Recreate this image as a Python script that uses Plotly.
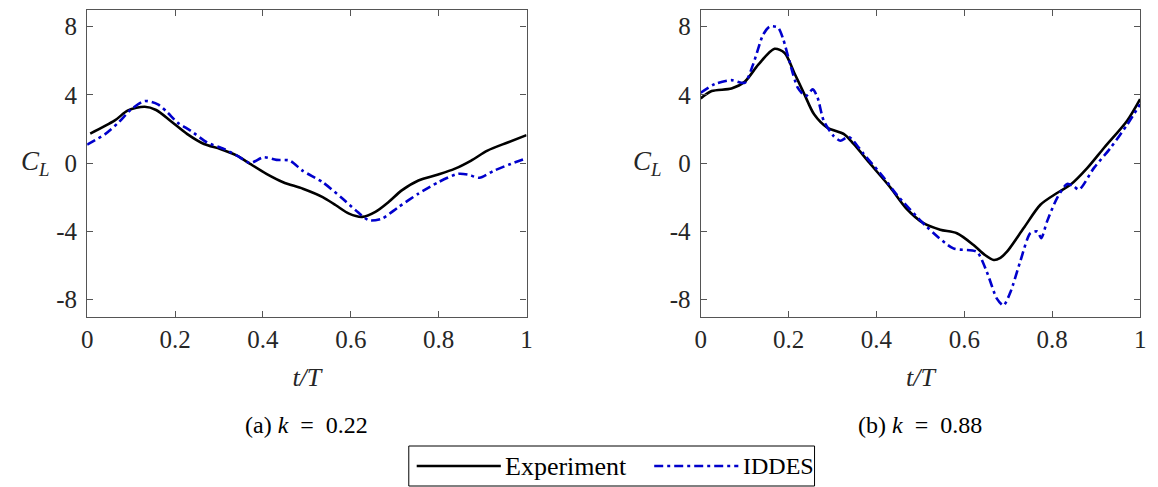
import plotly.graph_objects as go

# ---- data ----
t_exp_a = [0.007, 0.063, 0.093, 0.131, 0.157, 0.19, 0.228, 0.266, 0.303, 0.341, 0.371, 0.408, 0.446, 0.491,
           0.536, 0.566, 0.596, 0.626, 0.656, 0.686, 0.716, 0.754, 0.799, 0.836, 0.874, 0.911, 0.957, 1.0]
cl_exp_a = [1.73, 2.5, 3.09, 3.3, 3.11, 2.47, 1.7, 1.12, 0.83, 0.44, -0.05, -0.63, -1.12, -1.5,
            -1.99, -2.47, -2.96, -3.15, -2.86, -2.28, -1.6, -1.02, -0.67, -0.34, 0.15, 0.73, 1.21, 1.64]

t_ides_a = [0.0, 0.041, 0.071, 0.1, 0.131, 0.161, 0.183, 0.206, 0.236, 0.273, 0.311, 0.341, 0.371, 0.401,
            0.431, 0.461, 0.491, 0.536, 0.581, 0.611, 0.641, 0.671, 0.709, 0.754, 0.799, 0.844, 0.866,
            0.893, 0.926, 0.964, 1.0]
cl_ides_a = [1.08, 1.7, 2.37, 3.15, 3.64, 3.44, 2.96, 2.37, 1.89, 1.21, 0.83, 0.44, 0.0, 0.34,
             0.19, 0.15, -0.46, -1.12, -2.08, -2.76, -3.35, -3.25, -2.57, -1.79, -1.12, -0.63, -0.67,
             -0.86, -0.44, -0.05, 0.28]

t_exp_b = [0.0, 0.025, 0.07, 0.1, 0.131, 0.168, 0.191, 0.213, 0.236, 0.258, 0.288, 0.326, 0.348, 0.386,
           0.431, 0.468, 0.507, 0.545, 0.583, 0.621, 0.645, 0.667, 0.682, 0.697, 0.735, 0.773, 0.811, 0.842,
           0.88, 0.918, 0.97, 1.0]
cl_exp_b = [3.79, 4.22, 4.37, 4.76, 5.77, 6.7, 6.45, 5.28, 4.03, 2.86, 2.08, 1.7, 1.12, -0.05,
            -1.41, -2.66, -3.52, -3.9, -4.11, -4.8, -5.35, -5.68, -5.55, -5.19, -3.81, -2.44, -1.75, -1.26,
            -0.28, 0.9, 2.47, 3.75]

t_ides_b = [0.0, 0.033, 0.07, 0.1, 0.119, 0.142, 0.157, 0.176, 0.187, 0.202, 0.221, 0.239, 0.255, 0.266,
            0.28, 0.302, 0.318, 0.337, 0.371, 0.416, 0.446, 0.514, 0.575, 0.628, 0.651, 0.674, 0.689,
            0.705, 0.727, 0.75, 0.766, 0.775, 0.788, 0.811, 0.834, 0.849, 0.861, 0.895, 0.933, 0.971, 1.0]
cl_ides_b = [4.12, 4.64, 4.86, 4.7, 5.77, 7.52, 8.0, 7.94, 7.32, 5.96, 4.41, 3.93, 4.32, 3.83,
             2.47, 1.6, 1.31, 1.54, 0.53, -0.83, -1.85, -3.72, -5.0, -5.19, -6.37, -7.94, -8.34,
             -7.55, -5.78, -4.11, -4.01, -4.4, -3.43, -2.05, -1.22, -1.36, -1.56, -0.28, 0.9, 2.27, 3.45]

x_ticks = [0, 0.2, 0.4, 0.6, 0.8, 1]
x_ticklabels = ["0", "0.2", "0.4", "0.6", "0.8", "1"]
y_ticks = [-8, -4, 0, 4, 8]
y_ticklabels = ["-8", "-4", "0", "4", "8"]
series_names = ["Experiment", "IDDES"]
panel_titles = ["(a) <i>k</i>\u2002=\u20020.22", "(b) <i>k</i>\u2002=\u20020.88"]

# ---- style ----
FONT = "Times New Roman, Liberation Serif, Times, serif"
TXT = "#262626"
AX = "#555555"
BLACK = "#000000"
BLUE = "#0000CC"
DASHDOT = "9px,4px,3px,4px"
W = 1158
H = 487

fig = go.Figure()

panels = [(t_exp_a, cl_exp_a, t_ides_a, cl_ides_a, "x", "y"),
          (t_exp_b, cl_exp_b, t_ides_b, cl_ides_b, "x2", "y2")]
for te, ce, ti, ci, xa, ya in panels:
    fig.add_trace(go.Scatter(x=te, y=ce, mode="lines", name=series_names[0], xaxis=xa, yaxis=ya,
                             line=dict(color=BLACK, width=2.6, shape="spline", smoothing=0.8),
                             showlegend=False))
    fig.add_trace(go.Scatter(x=ti, y=ci, mode="lines", name=series_names[1], xaxis=xa, yaxis=ya,
                             line=dict(color=BLUE, width=2.6, dash=DASHDOT, shape="spline", smoothing=0.7),
                             showlegend=False))

dom_y = [1 - 316.7 / H, 1 - 9.5 / H]
dom_x1 = [82 / W, 526 / W]
dom_x2 = [702 / W, 1146 / W]

xcommon = dict(range=[0, 1], tickvals=x_ticks, ticktext=x_ticklabels, ticks="inside", ticklen=6, tickcolor=AX,
               showline=True, linecolor=AX, linewidth=1.2, mirror="ticks", showgrid=False, zeroline=False,
               tickfont=dict(family=FONT, size=25, color=TXT),
               title=dict(text="<i>t/T</i>", font=dict(family=FONT, size=26, color=TXT), standoff=16))
ycommon = dict(range=[-9, 9], tickvals=y_ticks, ticktext=y_ticklabels, ticks="inside", ticklen=6, tickcolor=AX,
               showline=True, linecolor=AX, linewidth=1.2, mirror="ticks", showgrid=False, zeroline=False,
               tickfont=dict(family=FONT, size=25, color=TXT), ticklabelstandoff=4)

fig.update_layout(
    width=W, height=H,
    margin=dict(l=0, r=0, t=0, b=0),
    paper_bgcolor="white", plot_bgcolor="white",
    font=dict(family=FONT),
    xaxis=dict(domain=dom_x1, anchor="y", **xcommon),
    yaxis=dict(domain=dom_y, anchor="x", **ycommon),
    xaxis2=dict(domain=dom_x2, anchor="y2", **xcommon),
    yaxis2=dict(domain=dom_y, anchor="x2", **ycommon),
    showlegend=False,
)

# C_L labels
for xp, yr in [(30 / W, "y"), (648 / W, "y2")]:
    fig.add_annotation(x=xp, xref="paper", y=0, yref=yr, text="<i>C<sub>L</sub></i>", showarrow=False,
                       font=dict(family=FONT, size=27, color=TXT), xanchor="center", yanchor="middle")

# panel captions
for xc, txt in [((82 + 526) / 2 / W, panel_titles[0]), ((702 + 1146) / 2 / W, panel_titles[1])]:
    fig.add_annotation(x=xc, xref="paper", y=1 - 425 / H, yref="paper", text=txt, showarrow=False,
                       font=dict(family=FONT, size=24, color="#000000"), xanchor="center", yanchor="middle")

# legend (drawn manually to match the long line samples)
lx0, lx1, ly0, ly1 = 407, 817, 446, 486
fig.add_shape(type="rect", xref="paper", yref="paper", x0=lx0 / W, x1=lx1 / W, y0=1 - ly1 / H, y1=1 - ly0 / H,
              line=dict(color="#000000", width=1), fillcolor="white")
ymid = 1 - 466 / H
fig.add_shape(type="line", xref="paper", yref="paper", x0=415 / W, x1=500 / W, y0=ymid, y1=ymid,
              line=dict(color=BLACK, width=2.6))
fig.add_annotation(x=502 / W, xref="paper", y=ymid, yref="paper", text=series_names[0], showarrow=False,
                   font=dict(family=FONT, size=26, color="#000000"), xanchor="left", yanchor="middle")
fig.add_shape(type="line", xref="paper", yref="paper", x0=655 / W, x1=740 / W, y0=ymid, y1=ymid,
              line=dict(color=BLUE, width=2.6, dash=DASHDOT))
fig.add_annotation(x=743 / W, xref="paper", y=ymid, yref="paper", text=series_names[1], showarrow=False,
                   font=dict(family=FONT, size=24, color="#000000"), xanchor="left", yanchor="middle")

fig.write_html("out.html")
